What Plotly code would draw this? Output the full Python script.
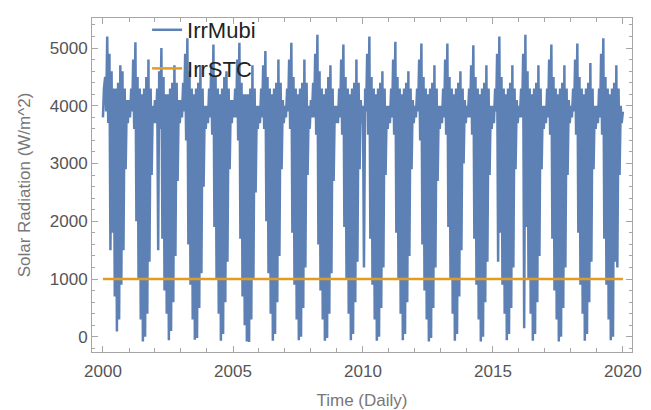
import pandas as pd
import plotly.graph_objects as go

# Semi-monthly samples (1st and 15th of each month):
# even entries trace the upper envelope, odd entries the lower envelope.
mubi_2000 = [3800, 4300, 4500, 3900, 5200, 3700, 4900, 1500, 4600, 1800, 4300, 700, 4300, 90, 4400, 300, 4700, 900, 4600, 1500, 4300, 2900, 4100, 3700]
mubi_2001 = [4100, 3800, 4300, 3900, 4800, 3600, 5100, 2000, 4500, 1000, 4300, 300, 4200, -80, 4300, 0, 4500, 400, 4800, 1300, 4300, 2800, 4000, 3700]
mubi_2002 = [4100, 3700, 4300, 1500, 4600, 3600, 5000, 1700, 4500, 800, 4200, 400, 4200, -60, 4300, 100, 4400, 600, 4700, 1400, 4400, 2700, 4100, 3700]
mubi_2003 = [4100, 3800, 4400, 3900, 4900, 3400, 5170, 1600, 4600, 900, 4300, 300, 4200, -50, 4300, -20, 4400, 500, 4700, 1100, 4300, 2600, 4000, 3600]
mubi_2004 = [4000, 3700, 4300, 3800, 4700, 3500, 5060, 1900, 4500, 1000, 4300, 400, 4200, -70, 4300, 50, 4500, 600, 4600, 1300, 4300, 2900, 4100, 3700]
mubi_2005 = [4100, 3800, 4300, 3800, 4800, 3400, 5090, 1700, 4400, 700, 4200, 200, 4200, -80, 4200, -90, 4300, 300, 4700, 1000, 4300, 2500, 4000, 3600]
mubi_2006 = [4000, 3700, 4300, 3800, 4700, 3600, 4950, 2000, 4500, 1100, 4300, 400, 4200, -70, 4300, 50, 4400, 600, 4800, 1400, 4400, 2900, 4100, 3700]
mubi_2007 = [4000, 3800, 4300, 3900, 4800, 3600, 5090, 1800, 4500, 900, 4300, 300, 4200, -60, 4300, 0, 4400, 500, 4800, 1200, 4400, 2800, 4000, 3600]
mubi_2008 = [4100, 3800, 4400, 3800, 4900, 3500, 5230, 1600, 4600, 800, 4300, 300, 4200, -70, 4300, -20, 4500, 400, 4700, 1100, 4300, 2700, 4000, 3700]
mubi_2009 = [4000, 3700, 4300, 3800, 4800, 3500, 5060, 1900, 4500, 1000, 4300, 400, 4200, -60, 4300, 50, 4400, 600, 4800, 1300, 4400, 2900, 4100, 3700]
mubi_2010 = [4000, 1200, 4300, 3900, 4900, 3500, 5200, 1700, 4500, 900, 4300, 300, 4200, -70, 4300, 0, 4400, 500, 4600, 1200, 4300, 2800, 4000, 3600]
mubi_2011 = [4000, 3700, 4300, 3800, 4800, 3500, 5110, 1800, 4500, 1000, 4300, 400, 4200, -60, 4300, 50, 4400, 600, 4600, 1400, 4300, 2900, 4100, 3700]
mubi_2012 = [4000, 3800, 4300, 3900, 4800, 3400, 5080, 1600, 4500, 800, 4300, 300, 4200, -80, 4300, -20, 4400, 500, 4700, 1200, 4300, 2700, 4000, 3600]
mubi_2013 = [4000, 3700, 4300, 3800, 4800, 3500, 5080, 1900, 4500, 1000, 4300, 400, 4200, -70, 4300, 50, 4400, 700, 4600, 1500, 4300, 3000, 4100, 3700]
mubi_2014 = [4000, 3800, 4300, 3800, 4700, 3500, 5050, 1700, 4500, 900, 4300, 300, 4200, -80, 4300, 0, 4400, 600, 4700, 1300, 4300, 2800, 4000, 3600]
mubi_2015 = [4000, 3700, 4300, 3900, 4900, 1300, 5200, 1800, 4500, 900, 4300, 400, 4200, -60, 4300, 50, 4400, 500, 4700, 1200, 4300, 2900, 4100, 3700]
mubi_2016 = [4000, 3800, 4300, 3800, 4900, 150, 5230, 1900, 4600, 1000, 4300, 400, 4200, -70, 4300, 50, 4400, 600, 4700, 1400, 4300, 2900, 4000, 3600]
mubi_2017 = [4000, 3700, 4300, 3800, 4800, 3500, 5060, 1700, 4500, 800, 4300, 300, 4200, -80, 4300, 0, 4400, 500, 4700, 1200, 4300, 2800, 4100, 3700]
mubi_2018 = [4000, 3800, 4300, 3900, 4800, 3500, 5080, 1800, 4500, 900, 4300, 400, 4200, -70, 4300, 50, 4400, 600, 4740, 1300, 4300, 2900, 4000, 3600]
mubi_2019 = [4000, 3700, 4300, 3800, 4900, 3500, 5170, 1700, 4500, 900, 4300, 300, 4200, -60, 4300, 0, 4400, 1300, 4700, 1200, 4300, 2800, 4000, 3700]
mubi_2020 = [3900]

irr_stc_value = 1000
x_tick_labels = ["2000", "2005", "2010", "2015", "2020"]

irr_mubi = (mubi_2000 + mubi_2001 + mubi_2002 + mubi_2003 + mubi_2004 + mubi_2005
            + mubi_2006 + mubi_2007 + mubi_2008 + mubi_2009 + mubi_2010 + mubi_2011
            + mubi_2012 + mubi_2013 + mubi_2014 + mubi_2015 + mubi_2016 + mubi_2017
            + mubi_2018 + mubi_2019 + mubi_2020)
dates = pd.date_range("2000-01-01", periods=len(irr_mubi), freq="SMS")
irr_stc = [irr_stc_value] * len(dates)

BLUE = "#5E81B5"
ORANGE = "#E19C24"
FRAME = "#a6a6a6"
FONT = "Liberation Sans, Arial, sans-serif"

fig = go.Figure()
fig.add_trace(go.Scatter(x=dates, y=irr_mubi, mode="lines", name="IrrMubi",
                         legendgroup="a", line=dict(color=BLUE, width=2.5)))
fig.add_trace(go.Scatter(x=dates, y=irr_stc, mode="lines", name="IrrSTC",
                         legendgroup="b", line=dict(color=ORANGE, width=2.5)))

fig.update_layout(
    width=651, height=410,
    margin=dict(l=92, r=19, t=18, b=58, autoexpand=False),
    paper_bgcolor="white", plot_bgcolor="white",
    font=dict(family=FONT),
    showlegend=True,
    legend=dict(x=0.102, y=1.027, xanchor="left", yanchor="top",
                bgcolor="rgba(0,0,0,0)", borderwidth=0,
                font=dict(size=22, color="#222222", family=FONT),
                tracegroupgap=7),
    xaxis=dict(
        type="date", automargin=False,
        range=["1999-07-31", "2020-05-08"],
        showline=True, linecolor=FRAME, linewidth=1, mirror="ticks",
        ticks="inside", ticklen=6, tickcolor=FRAME, tickwidth=1,
        tickvals=pd.to_datetime([f"{y}-01-01" for y in x_tick_labels]),
        ticktext=x_tick_labels,
        minor=dict(dtick="M12", tick0="2000-01-01", ticks="inside", ticklen=4,
                   tickcolor=FRAME, showgrid=False),
        showgrid=False, zeroline=False,
        tickfont=dict(size=17, color="#555555"),
        ticklabelstandoff=4,
        title=dict(text="Time (Daily)", font=dict(size=17, color="#777777"), standoff=18),
    ),
    yaxis=dict(
        automargin=False,
        range=[-263, 5520],
        showline=True, linecolor=FRAME, linewidth=1, mirror="ticks",
        ticks="inside", ticklen=6, tickcolor=FRAME, tickwidth=1,
        dtick=1000, tick0=0,
        minor=dict(dtick=200, ticks="inside", ticklen=3, tickcolor=FRAME, showgrid=False),
        showgrid=False, zeroline=False,
        tickfont=dict(size=17, color="#555555"),
        title=dict(text="Solar Radiation (W/m^2)", font=dict(size=17, color="#777777"), standoff=14),
    ),
)

fig.write_html("out.html", config={"displayModeBar": False},
               post_script="document.body.style.margin='0';")
